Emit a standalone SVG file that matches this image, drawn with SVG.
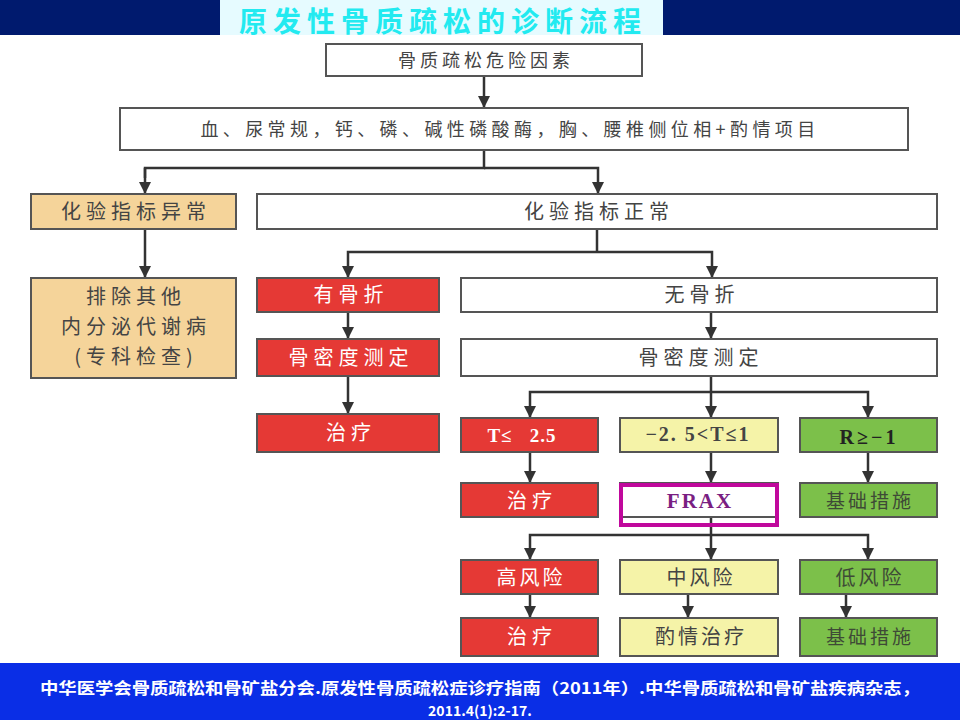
<svg xmlns="http://www.w3.org/2000/svg" width="960" height="720" viewBox="0 0 960 720">
<defs>
<marker id="ah" markerWidth="12" markerHeight="12" refX="11" refY="6" orient="auto" markerUnits="userSpaceOnUse" viewBox="0 0 12 12">
<path d="M0,0 L12,6 L0,12 Z" fill="#333"/>
</marker>
</defs>
<style>
.box{stroke:#555;stroke-width:2}
.w{fill:#ffffff}
.tan{fill:#f5d49a}
.red{fill:#e53935}
.yel{fill:#f5f3a8}
.grn{fill:#7cc04a}
.t{font-family:"Noto Sans CJK SC","Liberation Sans",sans-serif;font-size:20px;text-anchor:middle;letter-spacing:5px}
.dk{fill:#444}
.wt{fill:#ffffff}
.gt{fill:#3e4a36}
.num{font-family:"Liberation Serif","DejaVu Serif",serif;font-weight:bold;font-size:19px;text-anchor:middle}
.ln{stroke:#333;stroke-width:2.5;fill:none}
.arr{stroke:#333;stroke-width:2.5;fill:none;marker-end:url(#ah)}
</style>
<rect x="0" y="0" width="960" height="720" fill="#ffffff"/>
<g id="header">
<rect x="0" y="0" width="960" height="35" fill="#001a6e"/>
<rect x="220" y="0" width="443" height="35" fill="#e6fbff"/>
<text x="443" y="32" font-family="Noto Sans CJK SC,sans-serif" font-weight="bold" font-size="28" fill="#22eaf0" text-anchor="middle" letter-spacing="6">原发性骨质疏松的诊断流程</text>
</g>
<g id="connectors">
<line class="arr" x1="484" y1="76" x2="484" y2="107"/>
<polyline class="ln" points="484,150 484,168 145,168 145,178"/>
<line class="arr" x1="145" y1="168" x2="145" y2="193"/>
<polyline class="arr" points="484,168 598,168 598,193"/>
<line class="arr" x1="145" y1="229" x2="145" y2="277"/>
<polyline class="ln" points="597,229 597,252"/>
<polyline class="arr" points="597,252 348,252 348,277"/>
<polyline class="arr" points="597,252 712,252 712,277"/>
<line class="arr" x1="348" y1="312" x2="348" y2="338"/>
<line class="arr" x1="711" y1="312" x2="711" y2="338"/>
<line class="arr" x1="348" y1="376" x2="348" y2="413"/>
<line class="ln" x1="711" y1="376" x2="711" y2="392"/>
<polyline class="arr" points="711,392 530,392 530,417"/>
<line class="arr" x1="711" y1="392" x2="711" y2="417"/>
<polyline class="arr" points="711,392 868,392 868,417"/>
<line class="arr" x1="530" y1="452" x2="530" y2="482"/>
<line class="arr" x1="711" y1="452" x2="711" y2="482"/>
<line class="arr" x1="868" y1="452" x2="868" y2="482"/>
<line class="ln" x1="711" y1="517" x2="711" y2="535"/>
<polyline class="arr" points="711,535 530,535 530,559"/>
<line class="arr" x1="711" y1="535" x2="711" y2="559"/>
<polyline class="arr" points="711,535 868,535 868,559"/>
<line class="arr" x1="530" y1="594" x2="530" y2="617"/>
<line class="arr" x1="688" y1="594" x2="688" y2="617"/>
<line class="arr" x1="846" y1="594" x2="846" y2="617"/>
</g>
<g id="n-risk"><rect class="box w" x="326" y="44" width="316" height="32"/><text class="t dk" x="486" y="67" style="font-size:18px;letter-spacing:4px">骨质疏松危险因素</text></g>
<g id="n-tests"><rect class="box w" x="120" y="108" width="788" height="42"/><text class="t dk" x="510" y="136" style="font-size:18px;letter-spacing:4.4px">血、尿常规，钙、磷、碱性磷酸酶，胸、腰椎侧位相+酌情项目</text></g>
<g id="n-abn"><rect class="box tan" x="31" y="194" width="205" height="35"/><text class="t dk" x="136" y="219">化验指标异常</text></g>
<g id="n-norm"><rect class="box w" x="257" y="194" width="680" height="35"/><text class="t dk" x="599" y="219">化验指标正常</text></g>
<g id="n-excl"><rect class="box tan" x="31" y="278" width="205" height="100"/>
<text class="t dk" x="136" y="304">排除其他</text>
<text class="t dk" x="136" y="334">内分泌代谢病</text>
<text class="t dk" x="136" y="364">(专科检查)</text></g>
<g id="n-frac"><rect class="box red" x="257" y="278" width="182" height="34"/><text class="t wt" x="351" y="302">有骨折</text></g>
<g id="n-nofrac"><rect class="box w" x="461" y="278" width="476" height="34"/><text class="t dk" x="702" y="302">无骨折</text></g>
<g id="n-bmd1"><rect class="box red" x="257" y="339" width="182" height="37"/><text class="t wt" x="351" y="365">骨密度测定</text></g>
<g id="n-bmd2"><rect class="box w" x="461" y="339" width="476" height="37"/><text class="t dk" x="701" y="365">骨密度测定</text></g>
<g id="n-treat1"><rect class="box red" x="257" y="414" width="182" height="38"/><text class="t wt" x="351" y="440">治疗</text></g>
<g id="n-t1"><rect class="box red" x="461" y="418" width="137" height="34"/><text class="num wt" x="522" y="442" xml:space="preserve" style="letter-spacing:1px">T≤   2.5</text></g>
<g id="n-t2"><rect class="box yel" x="620" y="418" width="158" height="34"/><text class="num dk" x="698" y="441" style="font-size:20px;letter-spacing:2px">−2. 5&lt;T≤1</text></g>
<g id="n-t3"><rect class="box grn" x="800" y="418" width="137" height="34"/><text class="num" x="869" y="444" fill="#222" style="font-size:20px;letter-spacing:3px">R≥−1</text></g>
<g id="n-treat2"><rect class="box red" x="461" y="483" width="137" height="34"/><text class="t wt" x="532" y="508">治疗</text></g>
<g id="n-frax"><rect class="box w" x="620" y="483" width="158" height="34"/>
<rect x="621" y="485" width="156" height="40" fill="none" stroke="#c0089c" stroke-width="4"/>
<text class="num" x="700" y="508" fill="#7a1e82" style="font-size:21px;letter-spacing:2px">FRAX</text></g>
<g id="n-basic1"><rect class="box grn" x="800" y="483" width="137" height="34"/><text class="t gt" x="870" y="508" style="font-size:19px;letter-spacing:3px">基础措施</text></g>
<g id="n-high"><rect class="box red" x="461" y="560" width="137" height="34"/><text class="t wt" x="531" y="585" style="letter-spacing:3px">高风险</text></g>
<g id="n-mid"><rect class="box yel" x="620" y="560" width="158" height="34"/><text class="t dk" x="701" y="585" style="letter-spacing:3px">中风险</text></g>
<g id="n-low"><rect class="box grn" x="800" y="560" width="137" height="34"/><text class="t gt" x="870" y="585" style="letter-spacing:3px">低风险</text></g>
<g id="n-treat3"><rect class="box red" x="461" y="618" width="137" height="38"/><text class="t wt" x="532" y="644">治疗</text></g>
<g id="n-opt"><rect class="box yel" x="620" y="618" width="158" height="38"/><text class="t dk" x="701" y="644" style="letter-spacing:3px">酌情治疗</text></g>
<g id="n-basic2"><rect class="box grn" x="800" y="618" width="137" height="38"/><text class="t gt" x="870" y="644" style="font-size:19px;letter-spacing:3px">基础措施</text></g>
<g id="footer">
<rect x="0" y="663" width="960" height="57" fill="#0a2ee6"/>
<text x="480" y="694" font-family="Noto Sans CJK SC,sans-serif" font-weight="bold" font-size="16" fill="#ffffff" text-anchor="middle" textLength="880" lengthAdjust="spacingAndGlyphs">中华医学会骨质疏松和骨矿盐分会.原发性骨质疏松症诊疗指南（2011年）.中华骨质疏松和骨矿盐疾病杂志，</text>
<text x="480" y="716" font-family="Noto Sans CJK SC,sans-serif" font-weight="bold" font-size="14" fill="#ffffff" text-anchor="middle">2011.4(1):2-17.</text>
</g>
</svg>
